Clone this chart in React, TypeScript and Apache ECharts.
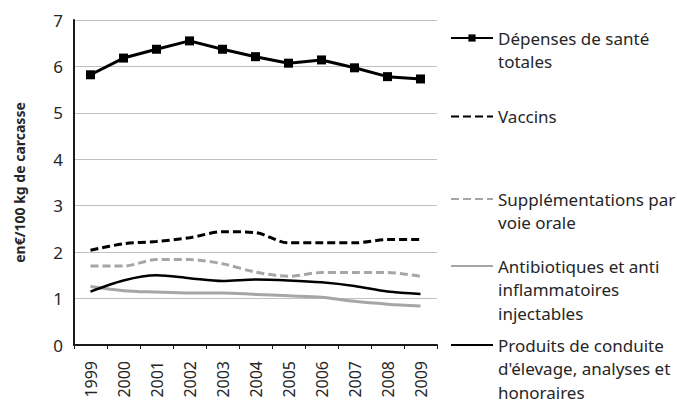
import React, { useEffect, useRef } from "react";
import * as echarts from "echarts";

const years = ["1999", "2000", "2001", "2002", "2003", "2004", "2005", "2006", "2007", "2008", "2009"];
const totales = [5.82, 6.18, 6.37, 6.55, 6.37, 6.21, 6.07, 6.14, 5.97, 5.78, 5.73];
const vaccins = [2.04, 2.18, 2.23, 2.31, 2.44, 2.42, 2.2, 2.2, 2.2, 2.27, 2.27];
const supplementations = [1.7, 1.7, 1.84, 1.84, 1.75, 1.57, 1.48, 1.56, 1.56, 1.56, 1.48];
const antibiotiques = [1.26, 1.17, 1.14, 1.12, 1.12, 1.09, 1.06, 1.03, 0.94, 0.88, 0.84];
const produits = [1.15, 1.39, 1.5, 1.44, 1.38, 1.41, 1.39, 1.35, 1.27, 1.15, 1.1];
const yTicks = [0, 1, 2, 3, 4, 5, 6, 7];

const seriesNames = [
  "Dépenses de santé\ntotales",
  "Vaccins",
  "Supplémentations par\nvoie orale",
  "Antibiotiques et anti\ninflammatoires\ninjectables",
  "Produits de conduite\nd'élevage, analyses et\nhonoraires",
];
const legendCenters = [38, 116.5, 199, 266, 345];

const FONT = "'Noto Sans', 'Open Sans', sans-serif";
const BLACK = "#000000";
const GRAY = "#a6a6a6";
const TEXT = "#262626";
const LH = 23.5;

export default function App() {
  const ref = useRef<HTMLDivElement>(null);
  useEffect(() => {
    document.body.style.margin = "0";
    const chart = echarts.init(ref.current!, undefined, { renderer: "svg" });
    const legends = seriesNames.map((name, i) => {
      const n = name.split("\n").length;
      return {
        orient: "vertical",
        left: 450,
        top: legendCenters[i] - ((2 * n - 1) * LH) / 2,
        padding: 0,
        itemWidth: 42,
        itemHeight: 9,
        itemGap: 0,
        selectedMode: false,
        data: [
          {
            name,
            itemStyle: i === 0 ? undefined : { opacity: 0 },
          },
        ],
        formatter: (nm: string) => "\n".repeat(n - 1) + nm,
        textStyle: {
          fontFamily: FONT,
          fontSize: 17,
          color: TEXT,
          lineHeight: LH,
        },
      };
    });
    const lineSeries = (
      name: string,
      data: number[],
      color: string,
      width: number,
      type: any,
      symbol: string,
      smooth: number | boolean
    ) => ({
      name,
      type: "line",
      data,
      smooth,
      symbol,
      symbolSize: 9,
      showSymbol: symbol !== "none",
      itemStyle: { color },
      lineStyle: { color, width, type, cap: "butt" },
    });
    chart.setOption({
      animation: false,
      grid: { left: 74, right: 240, top: 20, bottom: 70 },
      legend: legends,
      xAxis: {
        type: "category",
        data: years,
        boundaryGap: true,
        axisLine: { lineStyle: { color: "#1a1a1a", width: 2 } },
        axisTick: { show: true, length: 4, lineStyle: { color: "#1a1a1a", width: 1 } },
        axisLabel: {
          rotate: 90,
          margin: 16,
          fontFamily: FONT,
          fontSize: 16,
          color: TEXT,
        },
        splitLine: { show: false },
      },
      yAxis: {
        type: "value",
        min: yTicks[0],
        max: yTicks[yTicks.length - 1],
        interval: 1,
        name: "en€/100 kg de carcasse",
        nameLocation: "middle",
        nameRotate: 90,
        nameGap: 48,
        nameTextStyle: {
          fontFamily: FONT,
          fontSize: 14,
          fontWeight: "bold",
          color: TEXT,
        },
        axisLine: { show: true, lineStyle: { color: "#1a1a1a", width: 2 } },
        axisTick: { show: false },
        axisLabel: {
          margin: 11,
          fontFamily: FONT,
          fontSize: 17,
          color: TEXT,
        },
        splitLine: { lineStyle: { color: "#c0c0c0", width: 1 } },
      },
      series: [
        lineSeries(seriesNames[0], totales, BLACK, 3, "solid", "rect", false),
        lineSeries(seriesNames[1], vaccins, BLACK, 3, [8, 4], "none", 0.3),
        lineSeries(seriesNames[2], supplementations, GRAY, 3, [8, 4], "none", 0.3),
        lineSeries(seriesNames[3], antibiotiques, GRAY, 3, "solid", "none", 0.3),
        lineSeries(seriesNames[4], produits, BLACK, 2.5, "solid", "none", 0.3),
      ],
    });
    return () => chart.dispose();
  }, []);
  return <div ref={ref} style={{ width: 677, height: 415 }} />;
}
